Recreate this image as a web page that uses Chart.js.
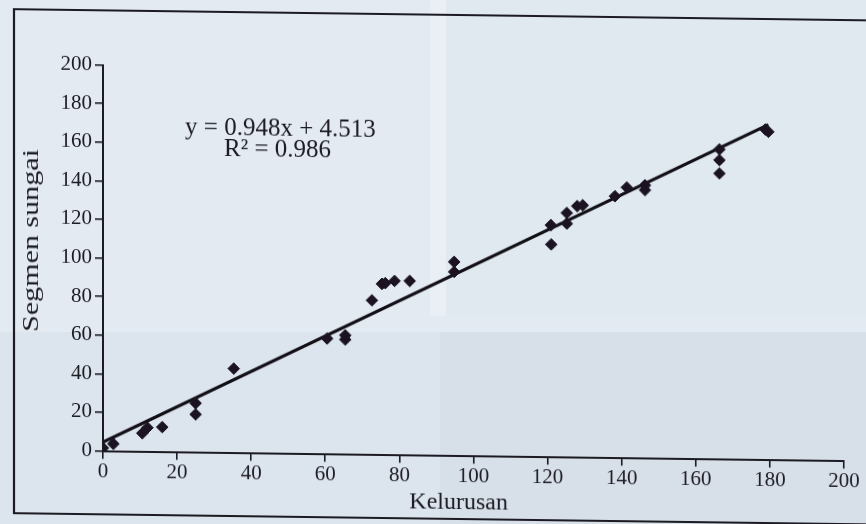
<!DOCTYPE html>
<html>
<head>
<meta charset="utf-8">
<script src="https://cdn.jsdelivr.net/npm/chart.js@4/dist/chart.umd.min.js"></script>
<style>
html,body{margin:0;padding:0;width:866px;height:524px;overflow:hidden;background:#dce4ed;}
.bg{position:absolute;}
#wrap{position:absolute;left:0;top:0;width:866px;height:524px;transform:skewY(0.75deg);transform-origin:0 0;}
canvas{display:block;}
</style>
</head>
<body>
<div class="bg" style="left:0;top:0;width:432px;height:318px;background:#e3eaf2;"></div>
<div class="bg" style="left:445px;top:0;width:421px;height:318px;background:#e0e8f0;"></div>
<div class="bg" style="left:430px;top:0;width:16px;height:330px;background:#e9eff5;"></div>
<div class="bg" style="left:0;top:316px;width:866px;height:16px;background:#e4eaf1;"></div>
<div class="bg" style="left:0;top:332px;width:440px;height:192px;background:#dce4ed;"></div>
<div class="bg" style="left:440px;top:332px;width:426px;height:192px;background:#d7dfe8;"></div>
<div id="wrap"><canvas id="c" width="866" height="524"></canvas></div>
<script>
// Data
const xValues = [0, 2.8, 10.6, 12.0, 16.0, 25.0, 25.0, 35.3, 60.5, 65.4, 65.4, 72.6, 75.3, 76.2, 78.7, 82.8, 94.8, 94.8, 120.9, 121.0, 125.2, 125.2, 128.0, 129.5, 138.2, 141.4, 146.3, 146.3, 166.4, 166.4, 166.4, 178.8, 179.6];
const yValues = [1.5, 3.7, 9.4, 12.3, 12.7, 25.3, 19.5, 43.5, 59.7, 61.5, 59.3, 79.8, 88.4, 88.8, 90.0, 90.1, 100.3, 95.1, 120.0, 110.0, 126.4, 120.9, 130.0, 130.5, 135.4, 140.0, 141.3, 138.8, 160.4, 154.8, 147.9, 171.0, 169.8];
const trendX = [0, 179.6];
const trendY = [4.5, 173.5];
const tickValues = [0, 20, 40, 60, 80, 100, 120, 140, 160, 180, 200];
const xTitle = 'Kelurusan';
const yTitle = 'Segmen sungai';
const eqLine1 = 'y = 0.948x + 4.513';
const eqLine2 = 'R\u00B2 = 0.986';

const points = xValues.map((x, i) => ({x: x, y: yValues[i]}));
const trend = trendX.map((x, i) => ({x: x, y: trendY[i]}));

const SERIF = '"Liberation Serif", "DejaVu Serif", serif';
const INK = '#1c1a22';

const decor = {
  id: 'decor',
  beforeDraw(chart) {
    const c = chart.ctx;
    c.save();
    c.strokeStyle = INK;
    c.lineWidth = 2.2;
    c.beginPath();
    c.moveTo(900, 9);
    c.lineTo(14, 9);
    c.lineTo(14, 513);
    c.lineTo(900, 513);
    c.stroke();
    c.restore();
  },
  afterDraw(chart) {
    const c = chart.ctx;
    const xs = chart.scales.x, ys = chart.scales.y;
    c.save();
    c.fillStyle = INK;
    c.textAlign = 'center';
    c.textBaseline = 'middle';
    // equation
    c.font = '25px ' + SERIF;
    c.fillText(eqLine1, xs.getPixelForValue(47.9), ys.getPixelForValue(168));
    c.fillText(eqLine2, xs.getPixelForValue(47.1), ys.getPixelForValue(157));
    // x title
    c.font = '24px ' + SERIF;
    c.fillText(xTitle, xs.getPixelForValue(96), 497);
    // y title (stretched along its length like the scan)
    c.save();
    c.translate(32, ys.getPixelForValue(108.5));
    c.rotate(-Math.PI / 2);
    const w = c.measureText(yTitle).width;
    c.scale(183 / w, 1);
    c.fillText(yTitle, 0, 0);
    c.restore();
    c.restore();
  }
};

new Chart(document.getElementById('c'), {
  type: 'scatter',
  data: {
    datasets: [
      {
        type: 'line',
        data: trend,
        borderColor: '#121016',
        borderWidth: 3.2,
        pointRadius: 0,
        fill: false,
        tension: 0,
        order: 2
      },
      {
        data: points,
        pointStyle: 'rectRot',
        pointRadius: 5.8,
        pointBackgroundColor: '#1b1322',
        pointBorderColor: '#1b1322',
        pointBorderWidth: 1,
        showLine: false,
        order: 1
      }
    ]
  },
  options: {
    responsive: false,
    animation: false,
    devicePixelRatio: 1,
    layout: {padding: {top: 63.5, right: 22, left: 0, bottom: 0}},
    plugins: {legend: {display: false}, tooltip: {enabled: false}},
    scales: {
      x: {
        type: 'linear',
        min: 0, max: 200,
        afterBuildTicks: s => { s.ticks = tickValues.map(v => ({value: v})); },
        afterFit: s => { s.height = 74.5; },
        grid: {drawOnChartArea: false, drawTicks: true, tickLength: 8, color: INK, lineWidth: 1.6},
        border: {display: true, color: INK, width: 2},
        ticks: {font: {family: SERIF, size: 21}, color: INK, padding: 0, maxRotation: 0}
      },
      y: {
        type: 'linear',
        min: 0, max: 200,
        afterBuildTicks: s => { s.ticks = tickValues.map(v => ({value: v})); },
        afterFit: s => { s.width = 103; },
        grid: {drawOnChartArea: false, drawTicks: true, tickLength: 8, color: INK, lineWidth: 1.6},
        border: {display: true, color: INK, width: 2},
        ticks: {font: {family: SERIF, size: 21}, color: INK, padding: 3}
      }
    }
  },
  plugins: [decor]
});
</script>
</body>
</html>
